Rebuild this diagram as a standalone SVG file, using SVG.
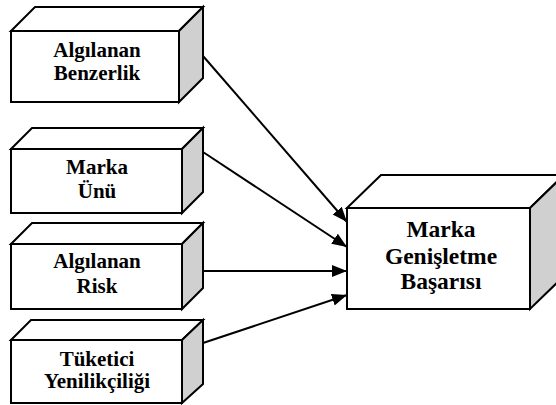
<svg xmlns="http://www.w3.org/2000/svg" width="556" height="405" viewBox="0 0 556 405">
  <style>
    .face { fill: #ffffff; stroke: #000000; stroke-width: 2; stroke-linejoin: miter; }
    .side { fill: #d0d0d0; stroke: #000000; stroke-width: 2; stroke-linejoin: miter; }
    .lbl { font-family: "Liberation Serif", "Times New Roman", serif; font-weight: bold; font-size: 21px; fill: #000000; text-anchor: middle; }
    .lbl-big { font-size: 23.5px; }
    .conn { stroke: #000000; stroke-width: 2; fill: none; marker-end: url(#arrow); }
  </style>
  <defs>
    <marker id="arrow" markerUnits="userSpaceOnUse" markerWidth="16" markerHeight="14" refX="15" refY="6" orient="auto">
      <path d="M0,0 L15,6 L0,12 Z" fill="#000000"/>
    </marker>
  </defs>
  <rect width="556" height="405" fill="#ffffff"/>

  <!-- source node: Algılanan Benzerlik -->
  <g id="node-benzerlik">
    <polygon class="face" points="11,31 35,7 203,7 179,31"/>
    <polygon class="side" points="179,31 203,7 203,78 179,102"/>
    <rect class="face" x="11" y="31" width="168" height="71"/>
    <text class="lbl" x="97" y="57">Algılanan</text>
    <text class="lbl" x="97" y="80">Benzerlik</text>
  </g>

  <!-- source node: Marka Ünü -->
  <g id="node-marka-unu">
    <polygon class="face" points="11,149 32,128 203,128 182,149"/>
    <polygon class="side" points="182,149 203,128 203,192 182,213"/>
    <rect class="face" x="11" y="149" width="171" height="64"/>
    <text class="lbl" x="97" y="174">Marka</text>
    <text class="lbl" x="97" y="198">Ünü</text>
  </g>

  <!-- source node: Algılanan Risk -->
  <g id="node-risk">
    <polygon class="face" points="11,244 32,223 203,223 182,244"/>
    <polygon class="side" points="182,244 203,223 203,288 182,309"/>
    <rect class="face" x="11" y="244" width="171" height="65"/>
    <text class="lbl" x="97" y="268">Algılanan</text>
    <text class="lbl" x="97" y="293">Risk</text>
  </g>

  <!-- source node: Tüketici Yenilikçiliği -->
  <g id="node-yenilikcilik">
    <polygon class="face" points="11,340 31,320 203,320 182,340"/>
    <polygon class="side" points="182,340 203,320 203,384 182,403"/>
    <rect class="face" x="11" y="340" width="171" height="63"/>
    <text class="lbl" x="97" y="366">Tüketici</text>
    <text class="lbl" x="97" y="388">Yenilikçiliği</text>
  </g>

  <!-- target node: Marka Genişletme Başarısı -->
  <g id="node-basari">
    <polygon class="face" points="347,208 381,175 564,175 530,208"/>
    <polygon class="side" points="530,208 564,175 564,276 530,309"/>
    <rect class="face" x="347" y="208" width="183" height="101"/>
    <text class="lbl lbl-big" x="441" y="237">Marka</text>
    <text class="lbl lbl-big" x="441" y="264">Genişletme</text>
    <text class="lbl lbl-big" x="441" y="289">Başarısı</text>
  </g>

  <!-- connectors -->
  <g id="connectors">
    <line class="conn" x1="203" y1="56" x2="347" y2="222"/>
    <line class="conn" x1="203" y1="152" x2="347" y2="247"/>
    <line class="conn" x1="203" y1="271" x2="347" y2="271"/>
    <line class="conn" x1="203" y1="343" x2="347" y2="295"/>
  </g>
</svg>
